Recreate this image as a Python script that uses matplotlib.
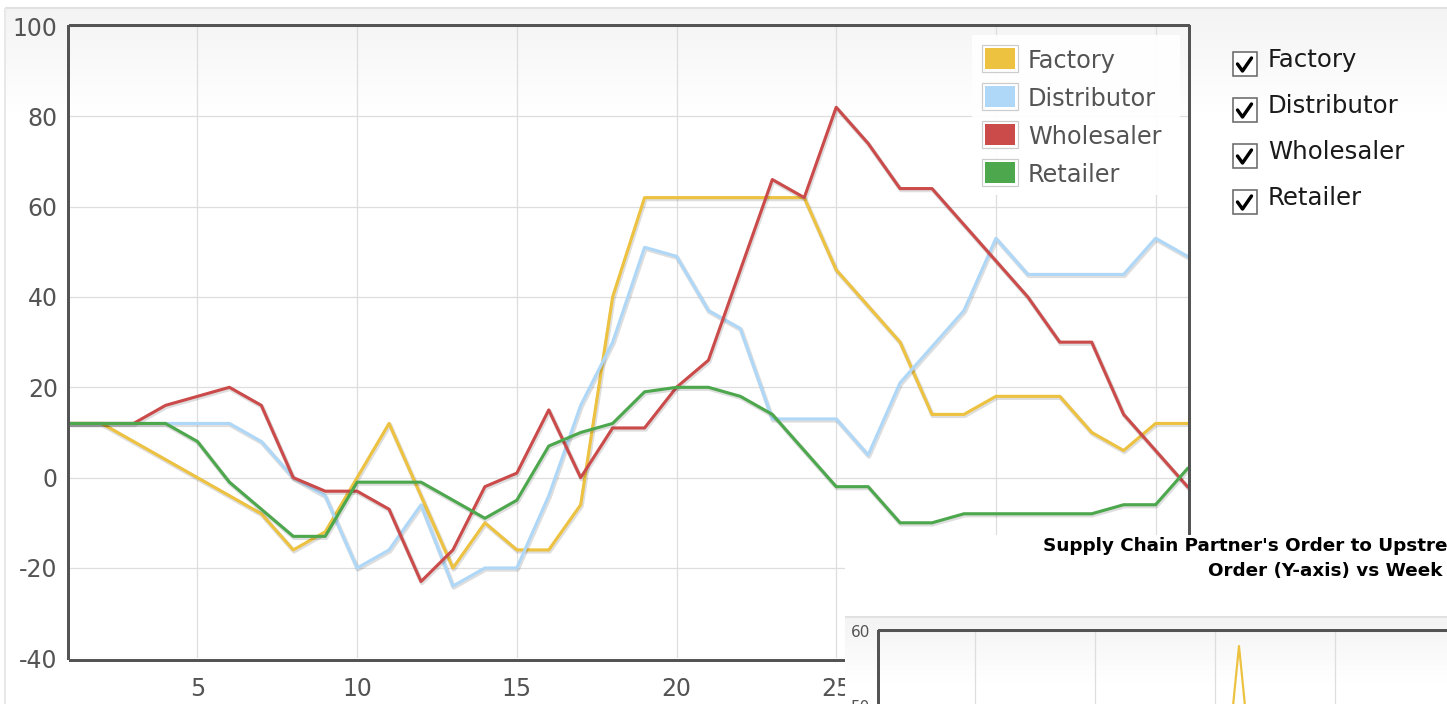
import numpy as np
import matplotlib
matplotlib.use("Agg")
import matplotlib.pyplot as plt
from matplotlib.patches import Rectangle
from matplotlib.lines import Line2D
import matplotlib.patheffects as pe

plt.rcParams["axes.unicode_minus"] = False

# ---- data -------------------------------------------------------------
weeks = list(range(1, 37))
series_names = ["Factory", "Distributor", "Wholesaler", "Retailer"]
series_colors = ["#edc240", "#afd8f8", "#cb4b4b", "#4da74d"]

factory = [12, 12, 8, 4, 0, -4, -8, -16, -12, 0, 12, -4, -20, -10, -16, -16, -6, 40,
           62, 62, 62, 62, 62, 62, 46, 38, 30, 14, 14, 18, 18, 18, 10, 6, 12, 12]
distributor = [12, 12, 12, 12, 12, 12, 8, 0, -4, -20, -16, -6, -24, -20, -20, -4, 16, 30,
               51, 49, 37, 33, 13, 13, 13, 5, 21, 29, 37, 53, 45, 45, 45, 45, 53, 49]
wholesaler = [12, 12, 12, 16, 18, 20, 16, 0, -3, -3, -7, -23, -16, -2, 1, 15, 0, 11,
              11, 20, 26, 46, 66, 62, 82, 74, 64, 64, 56, 48, 40, 30, 30, 14, 6, -2]
retailer = [12, 12, 12, 12, 8, -1, -7, -13, -13, -1, -1, -1, -5, -9, -5, 7, 10, 12,
            19, 20, 20, 18, 14, 6, -2, -2, -10, -10, -8, -8, -8, -8, -8, -6, -6, 2]

x_ticks = [5, 10, 15, 20, 25, 30, 35]
y_ticks = [-40, -20, 0, 20, 40, 60, 80, 100]

# second chart (order vs week), only its upper strip is on screen
order_weeks = [15, 16, 17]
order_factory = [26, 58, 26]
order_x_ticks = [5, 10, 15, 20, 25, 30, 35]
order_y_ticks = [50, 60]
order_title = ["Supply Chain Partner's Order to Upstream Partner",
               "Order (Y-axis) vs Week (X-axis)"]

# ---- layout helpers (pixel based) -----------------------------------
W, H = 1447, 704
DPI = 100
PX = 72.0 / DPI  # points per pixel


def rect(l, t, r, b):
    return [l / W, 1 - b / H, (r - l) / W, (b - t) / H]


def fx(x):
    return x / W


def fy(y):
    return 1 - y / H


fig = plt.figure(figsize=(W / DPI, H / DPI), dpi=DPI)
fig.patch.set_facecolor("white")

TXT = "#545454"
FRAME = "#545454"
GRID = "#dedede"

# ---- panel background with soft top gradient ---------------------------
bg = fig.add_axes([0, 0, 1, 1], zorder=-10)
img = np.ones((H, W, 3))
yy = np.arange(H)
shade = np.clip((yy - 8) / 105.0, 0, 1)
col = 0.955 + (1 - 0.955) * shade
img[:, :, :] = col[:, None, None]
img[:8, :, :] = 1.0
img[:, :5, :] = 1.0
img[7:9, 5:, :] = 0.88
img[8:, 4:6, :] = 0.91
bg.imshow(img, extent=[0, W, H, 0], aspect="auto", interpolation="bilinear")
bg.set_xlim(0, W)
bg.set_ylim(H, 0)
bg.axis("off")

# ---- main chart ------------------------------------------------------
ax = fig.add_axes(rect(69.7, 26, 1187.5, 658.3), zorder=0)
ax.set_facecolor("none")
ax.set_xlim(1, 36)
ax.set_ylim(-40, 100)
ax.set_xticks(x_ticks)
ax.set_yticks(y_ticks)
ax.grid(True, color=GRID, linewidth=1.0 * PX * 1.3)
ax.set_axisbelow(True)
for s in ax.spines.values():
    s.set_color(FRAME)
    s.set_linewidth(3 * PX)
    s.set_position(("outward", 1.5 * PX))
ax.tick_params(length=0, labelsize=17, labelcolor=TXT)
ax.tick_params(axis="x", pad=12.5)
ax.tick_params(axis="y", pad=7.5)

shadow = [pe.SimpleLineShadow(offset=(0.6, -1.0), shadow_color="k", alpha=0.13,
                              linewidth=3.2 * PX + 1.0),
          pe.Normal()]
for vals, c in zip([factory, distributor, wholesaler, retailer], series_colors):
    ax.plot(weeks, vals, color=c, linewidth=3.1 * PX, solid_joinstyle="round",
            path_effects=shadow, clip_on=True)

# legend box inside the plot
fig.add_artist(Rectangle((fx(972), fy(195)), fx(1180) - fx(972), fy(35) - fy(195),
                         transform=fig.transFigure, facecolor="white",
                         edgecolor="none", alpha=0.92, zorder=1))
for i, (name, c) in enumerate(zip(series_names, series_colors)):
    cy = 58.5 + 38 * i
    fig.add_artist(Rectangle((fx(982), fy(cy + 13.5)), fx(1018) - fx(982), 27 / H,
                             transform=fig.transFigure, facecolor="white",
                             edgecolor="#cccccc", linewidth=1.2 * PX, zorder=2))
    fig.add_artist(Rectangle((fx(985), fy(cy + 10)), fx(1015) - fx(985), 20 / H,
                             transform=fig.transFigure, facecolor=c,
                             edgecolor="none", zorder=2))
    fig.text(fx(1028), fy(68.3 + 38 * i), name, fontsize=17.3, color=TXT,
             va="baseline", ha="left", zorder=3)

# series toggles on the right
for i, name in enumerate(series_names):
    top = 52 + 46 * i
    fig.add_artist(Rectangle((fx(1232.5), fy(top + 24)), 24 / W, 24 / H,
                             transform=fig.transFigure, facecolor="white",
                             edgecolor="#6a6a6a", linewidth=1.6 * PX, zorder=2))
    cx = [1237.5, 1242.5, 1251.5]
    cyv = [top + 12, top + 19, top + 6]
    fig.add_artist(Line2D([fx(v) for v in cx], [fy(v) for v in cyv],
                          transform=fig.transFigure, color="black",
                          linewidth=3.4 * PX, solid_capstyle="round",
                          solid_joinstyle="round", zorder=3))
    fig.text(fx(1268), fy(66.7 + 46 * i), name, fontsize=17.6, color="#1a1a1a",
             va="baseline", ha="left", zorder=3)

# ---- lower-right panel holding the second chart --------------------------
over = fig.add_axes(rect(845, 535, 1447 + 5, 704 + 5), zorder=5)
over.set_facecolor("white")
over.set_xticks([])
over.set_yticks([])
for s in over.spines.values():
    s.set_visible(False)

bg2 = fig.add_axes(rect(845, 616, 1447 + 5, 704 + 5), zorder=6)
g2 = np.ones((100, 10, 3))
sh2 = np.clip(np.arange(100) / 70.0, 0, 1)
g2[:, :, :] = (0.955 + 0.045 * sh2)[:, None, None]
g2[:2, :, :] = 0.88
bg2.imshow(g2, extent=[0, 1, 1, 0], aspect="auto", interpolation="bilinear")
bg2.axis("off")

fig.text(fx(1043), fy(551), order_title[0], fontsize=13.2, fontweight="bold",
         color="black", ha="left", va="baseline", zorder=10)
fig.text(fx(1208), fy(576.5), order_title[1], fontsize=13.2, fontweight="bold",
         color="black", ha="left", va="baseline", zorder=10)

ax2 = fig.add_axes(rect(879, 631, 879 + 35 * 24, 631 + 60 * 7.5), zorder=7)
ax2.set_facecolor("none")
ax2.set_xlim(1, 36)
ax2.set_ylim(0, 60)
ax2.set_xticks(order_x_ticks)
ax2.set_yticks(order_y_ticks)
ax2.grid(True, color=GRID, linewidth=1.0 * PX * 1.3)
ax2.set_axisbelow(True)
for name, s in ax2.spines.items():
    s.set_color(FRAME)
    s.set_linewidth(3 * PX)
    s.set_position(("outward", 1.5 * PX))
    if name in ("right", "bottom"):
        s.set_visible(False)
ax2.tick_params(length=0, labelsize=11, labelcolor=TXT)
ax2.tick_params(axis="x", labelbottom=False)
ax2.tick_params(axis="y", pad=5.5)
ax2.plot(order_weeks, order_factory, color=series_colors[0], linewidth=2.2 * PX)

fig.savefig("out.png", dpi=DPI)
